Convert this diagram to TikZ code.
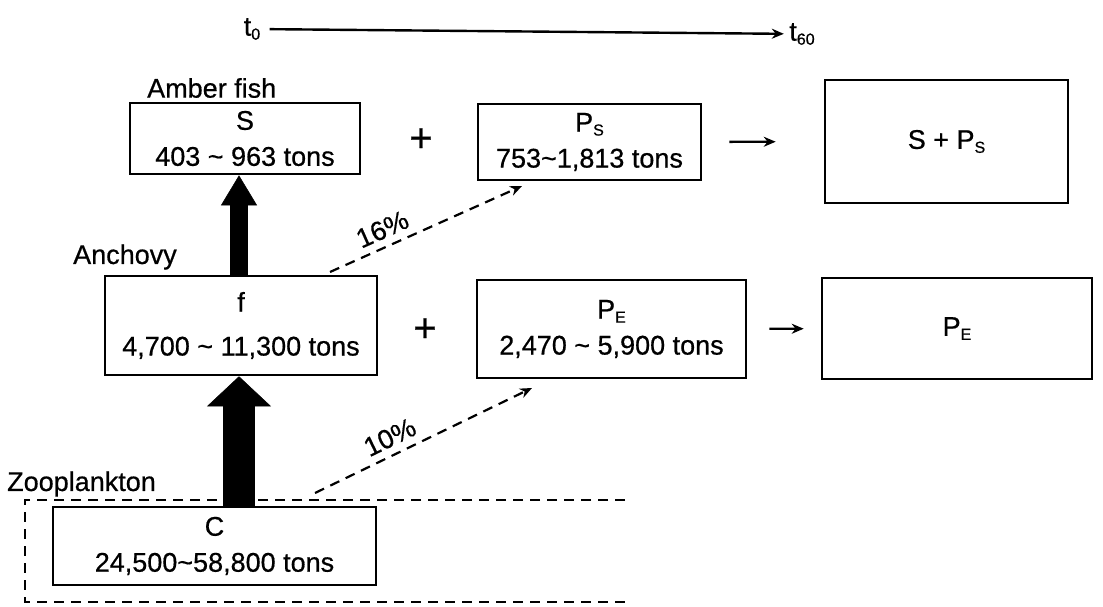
\documentclass[tikz,border=0pt]{standalone}
\usepackage{fontspec}
\setmainfont[FakeBold=0.6]{Liberation Sans}
\usetikzlibrary{arrows.meta}
\newcommand\lowsub[1]{\raisebox{-4pt}{\fontsize{16}{16}\selectfont #1}}

\begin{document}
\begin{tikzpicture}[x=1pt,y=-1pt,>={Stealth[length=12pt,width=10pt]},
  font=\fontsize{27}{36}\selectfont,
  box/.style={draw,line width=2.6pt,inner sep=0pt,align=center},
  tag/.style={anchor=west,inner sep=0pt},
  sign/.style={font=\fontsize{40}{40}\selectfont},
  flow/.style={->,line width=2.2pt,dash pattern=on 10pt off 7pt},
  feed/.style={line width=#1,-{Triangle[length=30pt,width=#1*2,line width=0.5pt]}}]
\useasboundingbox (0,0) rectangle (1103,607);
% time axis
\node (t0) at (252,29) {t\lowsub{0}};
\node (t60) at (802,34) {t\lowsub{60}};
\draw[->,line width=2.4pt,shorten <=6pt,shorten >=2pt] (t0) -- (t60);
% top row
\node[tag] (amber) at (147,88) {Amber fish};
\node[box,minimum width=230,minimum height=71] (sbox) at (245,138.5) {S\\403 \textasciitilde\ 963 tons};
\node[sign] (plusA) at (421,140) {+};
\node[box,minimum width=223,minimum height=76] (psbox) at (589.5,142) {P\lowsub{S}\\753\textasciitilde 1,813 tons};
\node[box,minimum width=243,minimum height=123] (sumbox) at (946.5,141.5) {S + P\lowsub{S}};
\draw[->,line width=2.4pt,shorten <=27pt,shorten >=48pt] (psbox) -- (sumbox);
% middle row
\node[tag] (anchovy) at (73,257) {Anchovy};
\node[box,minimum width=272,minimum height=99] (fbox) at (241,325.5) {f\\[8pt]4,700 \textasciitilde\ 11,300 tons};
\node[sign] (plusB) at (425,330) {+};
\node[box,minimum width=269,minimum height=98] (pebox) at (611.5,329) {P\lowsub{E}\\2,470 \textasciitilde\ 5,900 tons};
\node[box,minimum width=270,minimum height=101] (peres) at (957,328.5) {P\lowsub{E}};
\draw[->,line width=2.4pt,shorten <=22pt,shorten >=17pt] (pebox) -- (peres);
% bottom row
\node[tag] (zoo) at (7,484) {Zooplankton};
\node[box,minimum width=323,minimum height=78] (cbox) at (214.5,546) {C\\24,500\textasciitilde 58,800 tons};
\draw[line width=2.2pt,dash pattern=on 10pt off 7pt] (625,500) -- (25,500) -- (25,602) -- (625,602);
% transfers
\coordinate (shaft) at (239,0);
\draw[feed=18pt] (fbox.north -| shaft) -- (sbox.south -| shaft);
\draw[feed=32pt] (cbox.north -| shaft) -- (fbox.south -| shaft);
\coordinate (a16) at (330,272);
\coordinate (b16) at (522,186);
\coordinate (a10) at (315,493);
\coordinate (b10) at (532,388);
\draw[flow] (a16) -- node[above=6pt,sloped,pos=0.31,inner sep=1pt] (p16) {16\%} (b16);
\draw[flow] (a10) -- node[above=6pt,sloped,pos=0.38,inner sep=1pt] (p10) {10\%} (b10);
\end{tikzpicture}
\end{document}
